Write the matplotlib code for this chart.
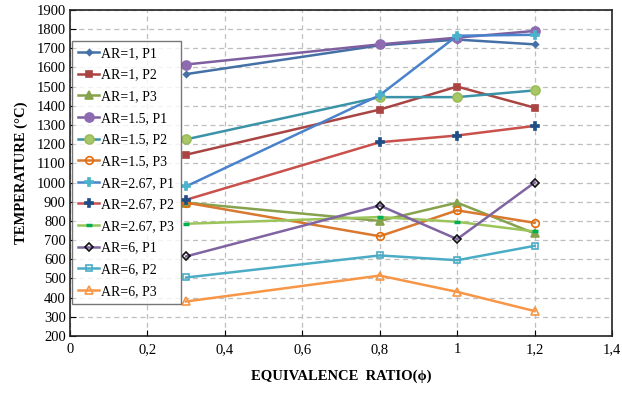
import numpy as np
import matplotlib
matplotlib.use('Agg')
import matplotlib.pyplot as plt

plt.rcParams['font.family'] = ['Liberation Serif', 'DejaVu Serif']

# data
phi = [0.3, 0.8, 1.0, 1.2]
labels = ['AR=1, P1', 'AR=1, P2', 'AR=1, P3',
          'AR=1.5, P1', 'AR=1.5, P2', 'AR=1.5, P3',
          'AR=2.67, P1', 'AR=2.67, P2', 'AR=2.67, P3',
          'AR=6, P1', 'AR=6, P2', 'AR=6, P3']
temps = [
    [1565, 1715, 1745, 1720],
    [1145, 1380, 1500, 1390],
    [895, 800, 895, 735],
    [1615, 1720, 1755, 1790],
    [1225, 1445, 1445, 1480],
    [895, 720, 855, 790],
    [980, 1455, 1765, 1770],
    [910, 1210, 1245, 1295],
    [785, 820, 795, 745],
    [615, 880, 705, 1000],
    [505, 620, 595, 670],
    [380, 515, 430, 330],
]

# (line colour, marker, marker face, marker edge, marker size)
styles = [
    ('#4470A6', 'D', '#4470A6', '#4470A6', 3),
    ('#A94442', 's', '#A94442', '#A94442', 4.5),
    ('#86A24C', '^', '#86A24C', '#86A24C', 5.5),
    ('#7E5FA0', 'o', '#8E6BB0', '#8E6BB0', 6.5),
    ('#3B93A8', 'o', '#A8C868', '#9BBB59', 6.5),
    ('#D9782F', 'o', 'none', '#E46C0A', 5.5),
    ('#4A82CB', 'P', '#4BB2CC', '#4BB2CC', 6),
    ('#C9504B', 'P', '#1F4E85', '#1F4E85', 6),
    ('#9BC45A', '_', '#00B050', '#00B050', 5),
    ('#8064A2', 'D', 'none', '#111111', 4.5),
    ('#4BACC6', 's', 'none', '#4BACC6', 4.5),
    ('#F79646', '^', 'none', '#F79646', 5.5),
]

fig = plt.figure(figsize=(6.22, 3.93), dpi=100)
ax = fig.add_axes([0.1125, 0.145, 0.8715, 0.83])

for y, lab, (c, m, fc, ec, ms) in zip(temps, labels, styles):
    mew = 2.5 if m == '_' else 1.2
    ax.plot(phi, y, color=c, lw=1.8, marker=m, markersize=ms,
            markerfacecolor=fc, markeredgecolor=ec, markeredgewidth=mew,
            label=lab)

ax.set_xlim(0, 1.4)
ax.set_ylim(200, 1900)
ax.set_xticks(np.arange(0, 1.41, 0.2))
ax.set_xticklabels(['0', '0,2', '0,4', '0,6', '0,8', '1', '1,2', '1,4'])
ax.set_yticks(np.arange(200, 1901, 100))
ax.tick_params(labelsize=10.5, direction='in', length=4, color='black')
ax.tick_params(axis='x', pad=5)
ax.tick_params(axis='y', pad=3)
ax.grid(True, color='#BFBFBF', linestyle=(0, (4, 3)), lw=0.9)
for s in ax.spines.values():
    s.set_color('#222222')
    s.set_linewidth(1.2)

ax.set_xlabel('EQUIVALENCE  RATIO(\u03d5)', fontsize=10.5, fontweight='bold', labelpad=10)
ax.set_ylabel('TEMPERATURE (\u00b0C)', fontsize=10.5, fontweight='bold', labelpad=6)

leg = ax.legend(loc='upper left', bbox_to_anchor=(0.004, 0.905), fontsize=10,
                frameon=True, fancybox=False, edgecolor='#555555',
                handlelength=1.5, handletextpad=0.15, labelspacing=0.62,
                borderpad=0.45, borderaxespad=0)
leg.get_frame().set_linewidth(1.0)

plt.savefig('out.png', dpi=100)
